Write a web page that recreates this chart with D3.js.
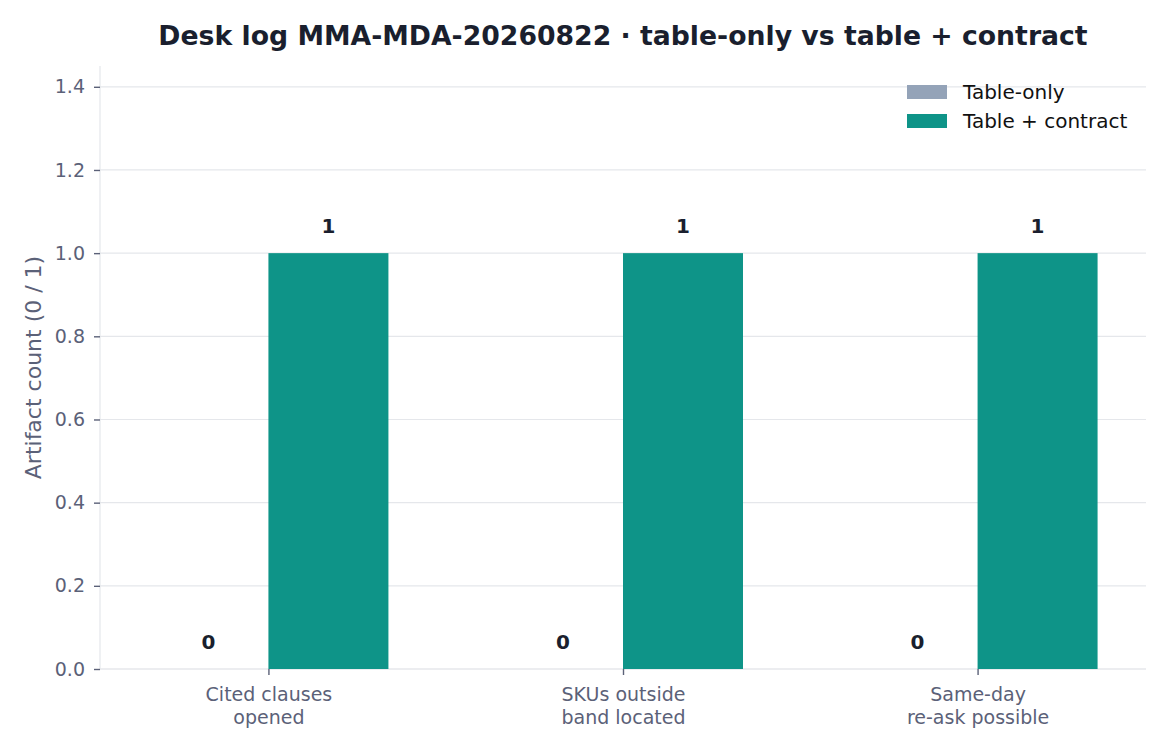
<!DOCTYPE html>
<html lang="en">
<head>
  <meta charset="UTF-8">
  <title>Desk log bar chart</title>
  <script src="https://d3js.org/d3.v7.min.js"></script>
  <style>
    body { margin: 0; background: #fff; }
    svg text { font-family: "DejaVu Sans", sans-serif; }
  </style>
</head>
<body>
<svg id="chart"></svg>
<script>
  // Data
  const categories = [["Cited clauses", "opened"], ["SKUs outside", "band located"], ["Same-day", "re-ask possible"]];
  const seriesNames = ["Table-only", "Table + contract"];
  const tableOnly = [0, 0, 0];
  const tableContract = [1, 1, 1];
  const yTicks = [0, 0.2, 0.4, 0.6, 0.8, 1.0, 1.2, 1.4];

  const colors = ["#94a3b8", "#0e9488"];
  const W = 1170, H = 750;
  const margin = { top: 66, right: 24, bottom: 81, left: 100 };
  const width = W - margin.left - margin.right;
  const height = H - margin.top - margin.bottom;

  const svg = d3.select("#chart").attr("width", W).attr("height", H);
  const g = svg.append("g").attr("transform", "translate(" + margin.left + "," + margin.top + ")");

  const x = d3.scalePoint().domain(d3.range(categories.length)).range([0, width]).padding(0.475);
  const y = d3.scaleLinear().domain([0, 1.45]).range([height, 0]);
  const barW = 120;

  // gridlines
  g.append("g").selectAll("line").data(yTicks).join("line")
    .attr("x1", 0).attr("x2", width)
    .attr("y1", d => y(d)).attr("y2", d => y(d))
    .attr("stroke", "#e5e7eb").attr("stroke-width", 1.2);

  // spines
  g.append("line").attr("x1", 0).attr("x2", 0).attr("y1", 0).attr("y2", height)
    .attr("stroke", "#e5e7eb").attr("stroke-width", 1.2);
  g.append("line").attr("x1", 0).attr("x2", width).attr("y1", height).attr("y2", height)
    .attr("stroke", "#e5e7eb").attr("stroke-width", 1.2);

  // bars + value labels
  const series = [tableOnly, tableContract];
  series.forEach((vals, s) => {
    const off = s === 0 ? -barW : 0;
    g.append("g").selectAll("rect").data(vals).join("rect")
      .attr("x", (d, i) => x(i) + off)
      .attr("y", d => y(d))
      .attr("width", barW)
      .attr("height", d => height - y(d))
      .attr("fill", colors[s]);
    g.append("g").selectAll("text").data(vals).join("text")
      .attr("x", (d, i) => x(i) + off + barW / 2)
      .attr("y", d => y(d) - 20)
      .attr("text-anchor", "middle")
      .attr("font-size", 20).attr("font-weight", "bold").attr("fill", "#1a1f2e")
      .text(d => d3.format("d")(d));
  });

  // y axis
  const yAxis = g.append("g")
    .call(d3.axisLeft(y).tickValues(yTicks).tickFormat(d3.format(".1f")).tickSize(6).tickPadding(9));
  yAxis.select(".domain").remove();
  yAxis.selectAll(".tick line").attr("stroke", "#5b6178").attr("stroke-width", 1.4);
  yAxis.selectAll(".tick text").attr("fill", "#5b6178").attr("font-size", 19);

  // x axis
  const xAxis = g.append("g").attr("transform", "translate(0," + height + ")")
    .call(d3.axisBottom(x).tickSize(6).tickFormat(""));
  xAxis.select(".domain").remove();
  xAxis.selectAll(".tick line").attr("stroke", "#5b6178").attr("stroke-width", 1.4);
  xAxis.selectAll(".tick").each(function (d) {
    const t = d3.select(this).append("text")
      .attr("fill", "#5b6178").attr("font-size", 19).attr("text-anchor", "middle");
    categories[d].forEach((line, k) => {
      t.append("tspan").attr("x", 0).attr("y", 32 + k * 23).text(line);
    });
  });

  // y label
  svg.append("text")
    .attr("transform", "translate(41," + (margin.top + height / 2) + ") rotate(-90)")
    .attr("text-anchor", "middle")
    .attr("font-size", 22).attr("fill", "#5b6178")
    .text("Artifact count (0 / 1)");

  // title
  svg.append("text")
    .attr("x", 623).attr("y", 45)
    .attr("text-anchor", "middle")
    .attr("font-size", 26.7).attr("font-weight", "bold").attr("fill", "#1a1f2e")
    .text("Desk log MMA-MDA-20260822 · table-only vs table + contract");

  // legend
  const legend = svg.append("g").attr("transform", "translate(907,85)");
  seriesNames.forEach((name, i) => {
    legend.append("rect").attr("x", 0).attr("y", i * 29).attr("width", 40).attr("height", 14).attr("fill", colors[i]);
    legend.append("text").attr("x", 56).attr("y", i * 29 + 14)
      .attr("font-size", 20).attr("fill", "#111").text(name);
  });
</script>
</body>
</html>
